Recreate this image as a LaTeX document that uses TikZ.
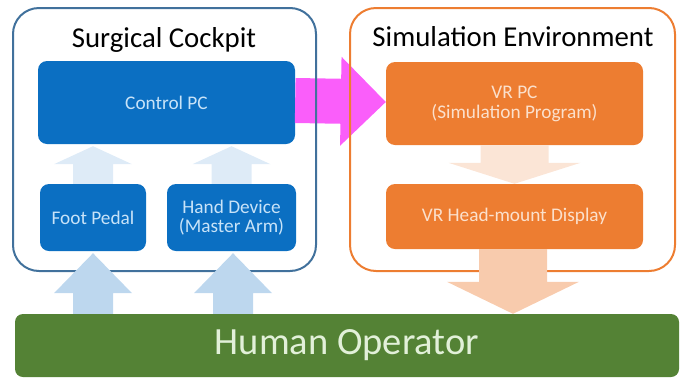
\documentclass[tikz,border=0pt]{standalone}
\usepackage{fontspec}
\setmainfont{Carlito}
\usetikzlibrary{calc}
\definecolor{cblue}{HTML}{41719C}
\definecolor{corange}{HTML}{ED7D31}
\definecolor{bfill}{HTML}{0B6FC2}
\definecolor{btext}{HTML}{C8E3F8}
\definecolor{ofill}{HTML}{ED7D31}
\definecolor{otext}{HTML}{FBE0CC}
\definecolor{gfill}{HTML}{548235}
\definecolor{gtext}{HTML}{E2F0D9}
\definecolor{lblue}{HTML}{BDD7EE}
\definecolor{pblue}{HTML}{DEEBF7}
\definecolor{lorange}{HTML}{F8CBAD}
\definecolor{porange}{HTML}{FBE5D6}
\definecolor{magen}{HTML}{FA5EFA}
\newcommand\blockarr[6]{%
  \fill[#6] let \p1=(#1), \p2=(#2),
    \n1={atan2(\y2-\y1,\x2-\x1)}, \n2={veclen(\x2-\x1,\y2-\y1)} in
    [shift={(\p1)}, rotate=\n1]
    (0pt,-#3pt) -- ({\n2-#5pt},-#3pt) -- ({\n2-#5pt},-#4pt) -- ({\n2},0pt)
    -- ({\n2-#5pt},#4pt) -- ({\n2-#5pt},#3pt) -- (0pt,#3pt) -- cycle;}
\tikzset{
  container/.style={draw=#1, line width=2pt, rounded corners=26pt, fill=none},
  bbox/.style={fill=bfill, text=btext, rounded corners=9pt, inner sep=0pt,
    align=center, font=\fontsize{19.3}{19}\selectfont},
  obox/.style={fill=ofill, text=otext, rounded corners=9pt, inner sep=0pt,
    align=center, font=\fontsize{19.3}{20}\selectfont},
  title/.style={anchor=base, text=black, font=\fontsize{28.8}{30}\selectfont, inner sep=0pt},
}
\begin{document}
\begin{tikzpicture}[x=1pt,y=-1pt]
\useasboundingbox (0,0) rectangle (683,381);
% boxes (nodes)
\node[bbox, minimum width=257pt, minimum height=83pt] (cpc) at (166.5,102.5) {Control PC};
\node[bbox, minimum width=106pt, minimum height=67pt] (fp) at (93,217.5) {Foot Pedal};
\node[bbox, minimum width=129pt, minimum height=67pt] (hd) at (231.5,217.5) {Hand Device\\(Master Arm)};
\node[obox, minimum width=257pt, minimum height=83pt] (vrpc) at (514.5,103.5) {VR PC\\(Simulation Program)};
\node[obox, minimum width=257pt, minimum height=65pt] (hmd) at (514.5,216.5) {VR Head-mount Display};
\node[fill=gfill, text=gtext, rounded corners=8pt, minimum width=664pt, minimum height=63pt,
  inner sep=0pt, font=\fontsize{38.5}{40}\selectfont] (ho) at (347,345.5) {Human Operator};
% magenta arrow (under container borders)
\blockarr{$(cpc.east)+(0,-2)$}{$(vrpc.west)+(0,-1.5)$}{22.5}{44.5}{45}{magen}
% containers
\draw[container=cblue] (13,8) rectangle (316,271);
\draw[container=corange] (350,8) rectangle (675,271);
\node[title] (t1) at (164,47) {Surgical Cockpit};
\node[title] (t2) at (513,46) {Simulation Environment};
% arrows
\blockarr{fp.north}{$(fp.north |- cpc.south)+(0,2)$}{20}{39}{18}{pblue}
\blockarr{hd.north}{$(hd.north |- cpc.south)+(0,2)$}{20}{39}{18}{pblue}
\blockarr{vrpc.south}{hmd.north}{34}{66}{21}{porange}
\blockarr{$(fp.south |- ho.north)$}{$(fp.south)+(0,2)$}{20}{39}{40}{lblue}
\blockarr{$(hd.south |- ho.north)+(1.5,0)$}{$(hd.south)+(1.5,2)$}{20}{39}{40}{lblue}
\blockarr{$(hmd.south)+(-1.5,0)$}{$(hmd.south |- ho.north)+(-1.5,0)$}{34}{66}{32}{lorange}
\end{tikzpicture}
\end{document}
